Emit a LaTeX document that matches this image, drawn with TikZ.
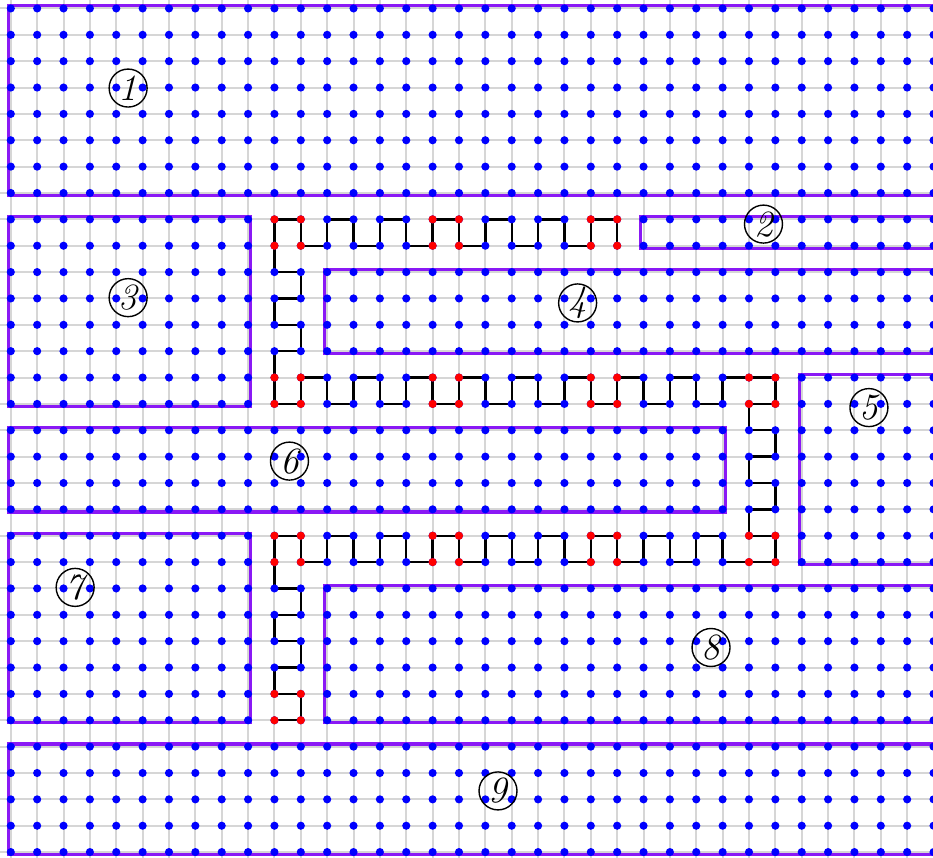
\documentclass[tikz,border=0pt]{standalone}
\usetikzlibrary{positioning}
\definecolor{regionline}{RGB}{138,25,245}
\begin{document}
\begin{tikzpicture}[
  x=0.5cm, y=-0.5cm,
  gridline/.style={draw=black!16, line width=1.1pt},
  region/.style={draw=regionline, line width=1.7pt},
  snake/.style={draw=black, line width=1.3pt},
  dot/.style={fill=blue},
  hot/.style={fill=red},
  tag/.style={draw, circle, line width=0.75pt, inner sep=0pt, minimum size=20.5pt,
    font=\fontsize{20}{23}\selectfont\itshape}
]
  \useasboundingbox (-0.41,-0.32) rectangle (34.98,32.22);
  \clip (-0.41,-0.32) rectangle (34.98,32.22);
  \foreach \c in {0,...,35} \draw[gridline] (\c,-1) -- (\c,33);
  \foreach \r in {0,...,32} \draw[gridline] (-1,\r) -- (36,\r);
  \foreach \a/\b/\c/\d in {0/0/36/7, 24/8/36/9, 0/8/9/15, 12/10/36/13, 30/14/36/21,
                           0/16/27/19, 0/20/9/27, 12/22/36/27, 0/28/36/32}
    \draw[region] (\a-0.1,\b-0.1) rectangle (\c+0.1,\d+0.1);
  \draw[snake] (23,9)
    \foreach \c in {23,21,...,11} { -- (\c,9) -- (\c,8) -- (\c-1,8) -- (\c-1,9) }
    \foreach \r in {10,12} { -- (10,\r) -- (11,\r) -- (11,\r+1) -- (10,\r+1) }
    -- (10,14) -- (10,15)
    \foreach \c in {11,13,...,25} { -- (\c,15) -- (\c,14) -- (\c+1,14) -- (\c+1,15) }
    -- (27,15) -- (27,14) -- (29,14) -- (29,15) -- (28,15)
    \foreach \r in {16,18} { -- (28,\r) -- (29,\r) -- (29,\r+1) -- (28,\r+1) }
    -- (28,20) -- (29,20) -- (29,21) -- (27,21)
    \foreach \c in {27,25,...,11} { -- (\c,21) -- (\c,20) -- (\c-1,20) -- (\c-1,21) }
    \foreach \r in {22,24,26} { -- (10,\r) -- (11,\r) -- (11,\r+1) -- (10,\r+1) };
  \foreach \c in {0,...,35} \foreach \r in {0,...,32} \fill[dot] (\c,\r) circle (2.2pt);
  \foreach \c/\r in {10/8, 16/8, 22/8, 10/14, 16/14, 22/14, 28/14,
                     10/20, 16/20, 22/20, 28/20, 10/26}
    \foreach \i in {0,1} \foreach \j in {0,1} \fill[hot] (\c+\i,\r+\j) circle (2.2pt);
  \node[tag] (one) at (4.45,3.02) {1};
  \node[tag] (two) at (28.55,8.18) {2};
  \node[tag] (three) at (4.45,10.97) {3};
  \node[tag] (four) at (21.5,11.17) {4};
  \node[tag] (five) at (32.55,15.14) {5};
  \node[tag] (six) at (10.57,17.17) {6};
  \node[tag] (seven) at (2.44,21.96) {7};
  \node[tag] (eight) at (26.56,24.24) {8};
  \node[tag] (nine) at (18.48,29.68) {9};
\end{tikzpicture}
\end{document}
